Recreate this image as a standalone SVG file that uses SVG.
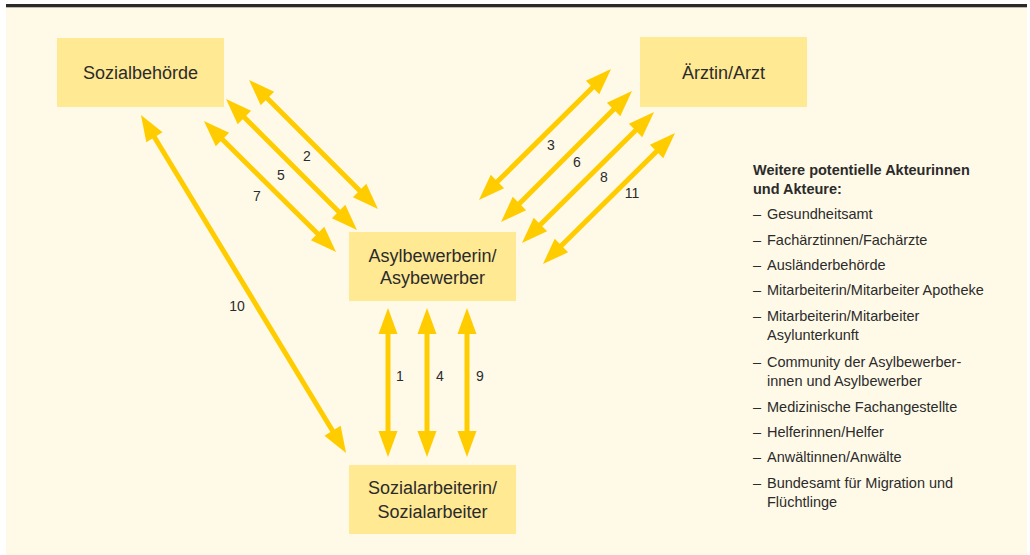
<svg xmlns="http://www.w3.org/2000/svg" width="1030" height="555" viewBox="0 0 1030 555">
<style>
.node{fill:#FFE993}
.nt{font-family:"Liberation Sans",Arial,sans-serif;font-size:18px;fill:#2b2b2b;text-anchor:middle}
.arr{stroke:#FFCC00;stroke-width:5;fill:none;marker-start:url(#ah);marker-end:url(#ah)}
.num{font-family:"Liberation Sans",Arial,sans-serif;font-size:14px;fill:#2b2b2b;text-anchor:middle}
.lg{font-family:"Liberation Sans",Arial,sans-serif;font-size:14.5px;fill:#2b2b2b}
.lgb{font-weight:bold}
</style>
<defs>
<marker id="ah" markerUnits="userSpaceOnUse" markerWidth="30" markerHeight="24" viewBox="-3 -12 30 24" refX="0" refY="0" orient="auto-start-reverse">
<path d="M-2,-9.5 L24,0 L-2,9.5 Z" fill="#FFCC00"/>
</marker>
</defs>
<rect x="0" y="0" width="1030" height="555" fill="#ffffff"/>
<rect x="6" y="7" width="1021" height="548" fill="#FFFAE8"/>
<rect x="6" y="4" width="1021" height="3.3" fill="#2a2a2a"/>

<g id="connectors">
<line class="arr" x1="266" y1="97" x2="361" y2="192"/>
<line class="arr" x1="243" y1="116" x2="340" y2="213"/>
<line class="arr" x1="221" y1="138" x2="319" y2="235"/>
<line class="arr" x1="153.4" y1="135.5" x2="333.6" y2="432.5"/>
<line class="arr" x1="594" y1="86" x2="496" y2="183"/>
<line class="arr" x1="615" y1="108" x2="518" y2="205"/>
<line class="arr" x1="637" y1="129" x2="539" y2="226"/>
<line class="arr" x1="658" y1="150" x2="560" y2="247"/>
<line class="arr" x1="388" y1="332" x2="388" y2="433"/>
<line class="arr" x1="427" y1="332" x2="427" y2="433"/>
<line class="arr" x1="467" y1="332" x2="467" y2="433"/>
<text class="num" x="307" y="161">2</text>
<text class="num" x="281" y="180">5</text>
<text class="num" x="257" y="201">7</text>
<text class="num" x="237" y="311">10</text>
<text class="num" x="551" y="150">3</text>
<text class="num" x="577" y="167">6</text>
<text class="num" x="604" y="182">8</text>
<text class="num" x="632" y="198">11</text>
<text class="num" x="400" y="381">1</text>
<text class="num" x="440" y="381">4</text>
<text class="num" x="480" y="381">9</text>
</g>

<g id="sozialbehoerde">
<rect class="node" x="57" y="38" width="167" height="69"/>
<text class="nt" x="140.5" y="79">Sozialbehörde</text>
</g>
<g id="arzt">
<rect class="node" x="640" y="37" width="167" height="70"/>
<text class="nt" x="723.5" y="79">Ärztin/Arzt</text>
</g>
<g id="asylbewerber">
<rect class="node" x="349" y="232" width="167" height="69"/>
<text class="nt" x="432.5" y="262">Asylbewerberin/</text>
<text class="nt" x="432.5" y="284">Asybewerber</text>
</g>
<g id="sozialarbeiter">
<rect class="node" x="349" y="465" width="167" height="69"/>
<text class="nt" x="432.5" y="494">Sozialarbeiterin/</text>
<text class="nt" x="432.5" y="518">Sozialarbeiter</text>
</g>

<g id="legend">
<text class="lg lgb" x="753" y="175">Weitere potentielle Akteurinnen</text>
<text class="lg lgb" x="753" y="194">und Akteure:</text>
<g class="lg">
<text x="753" y="219">–</text><text x="767" y="219">Gesundheitsamt</text>
<text x="753" y="245">–</text><text x="767" y="245">Fachärztinnen/Fachärzte</text>
<text x="753" y="270">–</text><text x="767" y="270">Ausländerbehörde</text>
<text x="753" y="295">–</text><text x="767" y="295">Mitarbeiterin/Mitarbeiter Apotheke</text>
<text x="753" y="321">–</text><text x="767" y="321">Mitarbeiterin/Mitarbeiter</text>
<text x="767" y="340">Asylunterkunft</text>
<text x="753" y="367">–</text><text x="767" y="367">Community der Asylbewerber-</text>
<text x="767" y="386">innen und Asylbewerber</text>
<text x="753" y="412">–</text><text x="767" y="412">Medizinische Fachangestellte</text>
<text x="753" y="437">–</text><text x="767" y="437">Helferinnen/Helfer</text>
<text x="753" y="462">–</text><text x="767" y="462">Anwältinnen/Anwälte</text>
<text x="753" y="488">–</text><text x="767" y="488">Bundesamt für Migration und</text>
<text x="767" y="507">Flüchtlinge</text>
</g>
</g>
</svg>
